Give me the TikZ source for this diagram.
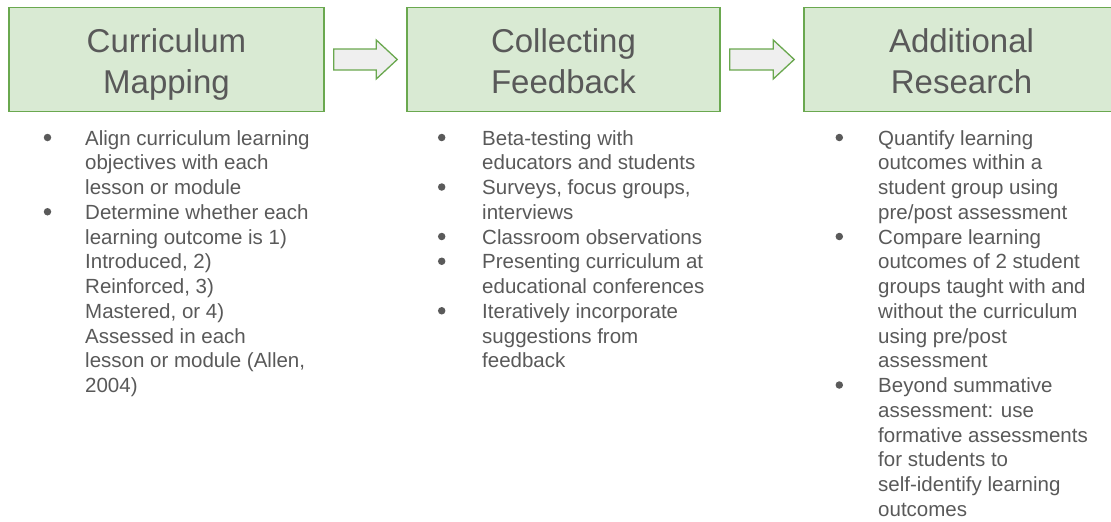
\documentclass[tikz,border=0pt]{standalone}
\usepackage{fontspec}
\setmainfont{Liberation Sans}
\usetikzlibrary{calc}
\definecolor{boxfill}{HTML}{D9EAD3}
\definecolor{boxline}{HTML}{6AA84F}
\definecolor{arrowfill}{HTML}{EFEFEF}
\definecolor{ink}{HTML}{595959}
\definecolor{dotgray}{HTML}{5A5A5A}

\begin{document}
\begin{tikzpicture}[x=1pt,y=-1pt,
  stagebox/.style={draw=boxline, fill=boxfill, line width=1.5pt,
    minimum height=104pt, inner sep=0pt},
  stagetitle/.style={text=ink, font=\fontsize{33}{41}\selectfont,
    anchor=base, inner sep=0pt},
  blockarrow/.style={draw=boxline, fill=arrowfill, line width=1.3pt,
    line join=miter},
  itemtext/.style={text=ink, font=\fontsize{20.5}{24.75}\selectfont,
    align=left, anchor=north west, inner sep=0pt},
  bulletdot/.style={circle, fill=dotgray, inner sep=0pt, minimum size=7.5pt},
]
\useasboundingbox (0,0) rectangle (1111,522);
\clip (0,0) rectangle (1111,522);

% stage boxes
\node[stagebox, minimum width=315pt] (b1) at (166.5,59.5) {};
\node[stagebox, minimum width=313pt] (b2) at (563.5,59.5) {};
\node[stagebox, minimum width=315pt] (b3) at (961.5,59.5) {};

% stage titles
\node[stagetitle] (t1a) at ($(b1.north)+(0,46)$) {Curriculum};
\node[stagetitle] (t1b) at ($(b1.north)+(0,86.5)$) {Mapping};
\node[stagetitle] (t2a) at ($(b2.north)+(0,46)$) {Collecting};
\node[stagetitle] (t2b) at ($(b2.north)+(0,86.5)$) {Feedback};
\node[stagetitle] (t3a) at ($(b3.north)+(0,46)$) {Additional};
\node[stagetitle] (t3b) at ($(b3.north)+(0,86.5)$) {Research};

% block arrows between stages
\draw[blockarrow]
  ($(b1.east)+(9,-10.5)$) -- ($(b2.west)+(-30,-10.5)$) --
  ($(b2.west)+(-30,-19.5)$) -- ($(b2.west)+(-9,0)$) --
  ($(b2.west)+(-30,19.5)$) -- ($(b2.west)+(-30,10.5)$) --
  ($(b1.east)+(9,10.5)$) -- cycle;
\draw[blockarrow]
  ($(b2.east)+(9,-10.5)$) -- ($(b3.west)+(-30,-10.5)$) --
  ($(b3.west)+(-30,-19.5)$) -- ($(b3.west)+(-9,0)$) --
  ($(b3.west)+(-30,19.5)$) -- ($(b3.west)+(-30,10.5)$) --
  ($(b2.east)+(9,10.5)$) -- cycle;

% bullet lists (first baseline at y=145, line pitch 24.75)
\node[itemtext] (l1) at (85,127.67) {\strut Align curriculum learning\\
objectives with each\\
lesson or module\\
Determine whether each\\
learning outcome is 1)\\
Introduced, 2)\\
Reinforced, 3)\\
Mastered, or 4)\\
Assessed in each\\
lesson or module (Allen,\\
2004)};

\node[itemtext] (l2) at (482,127.67) {\strut Beta-testing with\\
educators and students\\
Surveys, focus groups,\\
interviews\\
Classroom observations\\
Presenting curriculum at\\
educational conferences\\
Iteratively incorporate\\
suggestions from\\
feedback};

\node[itemtext] (l3) at (878,127.67) {\strut Quantify learning\\
outcomes within a\\
student group using\\
pre/post assessment\\
Compare learning\\
outcomes of 2 student\\
groups taught with and\\
without the curriculum\\
using pre/post\\
assessment\\
Beyond summative\\
assessment: use\\
formative assessments\\
for students to\\
self-identify learning\\
outcomes};

% bullets
\foreach \k in {0,3}
  \node[bulletdot] (d1-\k) at (47.5,137.5+\k*24.75) {};
\foreach \k in {0,2,4,5,7}
  \node[bulletdot] (d2-\k) at (441.7,137.5+\k*24.75) {};
\foreach \k in {0,4,10}
  \node[bulletdot] (d3-\k) at (839.3,137.5+\k*24.75) {};
\end{tikzpicture}
\end{document}
